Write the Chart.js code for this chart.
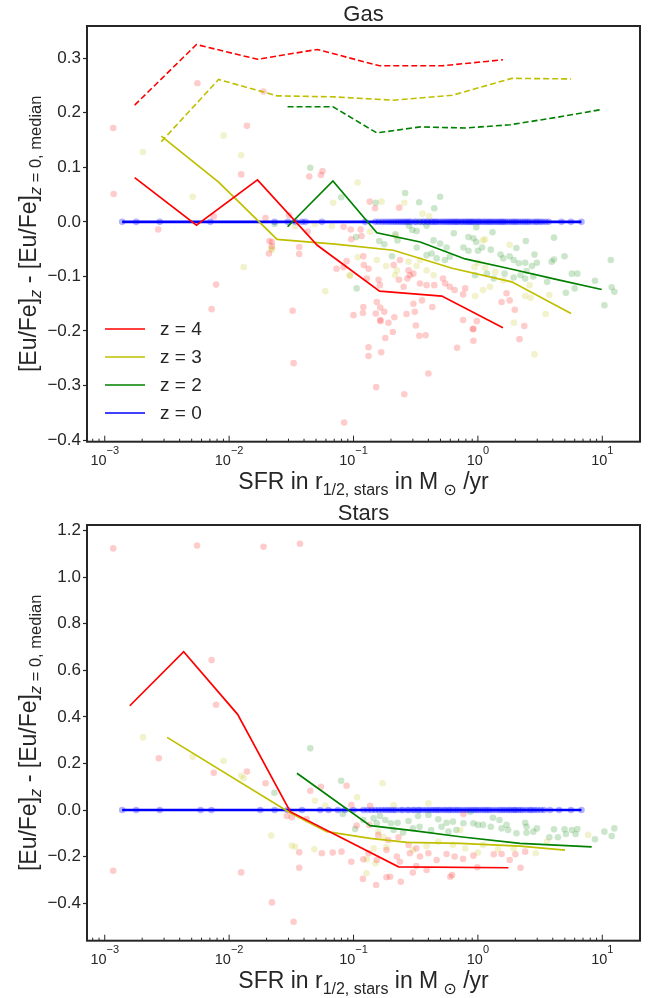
<!DOCTYPE html>
<html>
<head>
<meta charset="utf-8">
<title>[Eu/Fe] offset vs SFR</title>
<script src="https://cdn.jsdelivr.net/npm/chart.js@4.4.1/dist/chart.umd.min.js"></script>
<style>
  body { margin: 0; background: #fff; }
  .panel { position: absolute; left: 0; width: 657px; height: 499px; }
</style>
</head>
<body>
<div class="panel" style="top:0"><canvas id="gasChart" width="657" height="499"></canvas></div>
<div class="panel" style="top:499px"><canvas id="starsChart" width="657" height="499"></canvas></div>
<script>
// ---------- shared axis setup ----------
const xMin = 7.2e-4, xMax = 20.1;
const xMajorTicks = [0.001, 0.01, 0.1, 1, 10];
const xMajorLabels = ['−3', '−2', '−1', '0', '1'];   // exponents of 10
const gasYTicks = [-0.4, -0.3, -0.2, -0.1, 0.0, 0.1, 0.2, 0.3];
const starsYTicks = [-0.4, -0.2, 0.0, 0.2, 0.4, 0.6, 0.8, 1.0, 1.2];
const legendLabels = ['z = 4', 'z = 3', 'z = 2', 'z = 0'];

// ---------- Gas panel: medians (solid) and upper percentile (dashed) ----------
const gasZ4X = [0.00174, 0.00546, 0.0169, 0.0511, 0.162, 0.513, 1.59];
const gasZ4Median = [0.081, -0.006, 0.077, -0.043, -0.127, -0.136, -0.194];
const gasZ4Upper = [0.214, 0.325, 0.298, 0.316, 0.286, 0.286, 0.297];

const gasZ3X = [0.00285, 0.00823, 0.0243, 0.0713, 0.209, 0.621, 1.87, 5.61];
const gasZ3Median = [0.157, 0.073, -0.032, -0.041, -0.052, -0.085, -0.110, -0.168];
const gasZ3Upper = [0.147, 0.261, 0.231, 0.229, 0.223, 0.232, 0.263, 0.262];

const gasZ2X = [0.0295, 0.0683, 0.154, 0.344, 0.789, 1.81, 4.17, 9.89];
const gasZ2Median = [-0.009, 0.075, -0.020, -0.037, -0.068, -0.086, -0.105, -0.124];
const gasZ2Upper = [0.211, 0.211, 0.163, 0.174, 0.172, 0.178, 0.191, 0.206];

const gasZ0X = [0.00138, 6.8];
const gasZ0Median = [0, 0];

// individual galaxies (gas)
const gasZ4Points = [[0.00117,0.172],[0.00118,0.051],[0.00556,0.254],[0.0139,0.176],[0.0125,0.087],[0.00752,0.010],[0.00269,-0.014],[0.0196,0.007],[0.0189,0.239],[0.0441,0.083],[0.0547,0.086],[0.0563,0.093],[0.0303,0.012],[0.0428,-0.018],[0.0211,-0.035],[0.0221,-0.045],[0.0366,-0.046],[0.0209,-0.058],[0.0221,-0.037],[0.0366,-0.059],[0.00786,-0.115],[0.00723,-0.160],[0.0324,-0.163],[0.033,-0.259],[0.135,0.037],[0.149,0.025],[0.233,0.026],[0.0832,-0.009],[0.095,-0.014],[0.114,-0.014],[0.096,-0.032],[0.116,-0.026],[0.073,-0.086],[0.083,-0.083],[0.088,-0.072],[0.12,-0.063],[0.132,-0.086],[0.121,-0.079],[0.128,-0.104],[0.159,-0.106],[0.163,-0.116],[0.21,-0.079],[0.236,-0.070],[0.277,-0.089],[0.284,-0.098],[0.232,-0.106],[0.253,-0.119],[0.271,-0.104],[0.303,-0.095],[0.342,-0.113],[0.387,-0.116],[0.446,-0.116],[0.524,-0.104],[0.546,-0.113],[0.594,-0.119],[0.65,-0.125],[0.12,-0.156],[0.119,-0.167],[0.154,-0.147],[0.164,-0.157],[0.1,-0.171],[0.151,-0.168],[0.177,-0.165],[0.164,-0.180],[0.191,-0.185],[0.213,-0.175],[0.267,-0.169],[0.311,-0.165],[0.317,-0.190],[0.303,-0.150],[0.355,-0.144],[0.43,-0.156],[0.79,-0.122],[0.76,-0.133],[1.55,-0.147],[1.8,-0.144],[1.7,-0.131],[1.98,-0.161],[2.36,-0.191],[0.76,-0.180],[0.98,-0.182],[0.92,-0.196],[0.152,-0.303],[0.256,-0.316],[0.0841,-0.368],[0.40,-0.278],[0.132,-0.230],[0.132,-0.246],[0.167,-0.239],[0.18,-0.213],[0.207,-0.202],[0.338,-0.209],[0.38,-0.208],[0.68,-0.231],[0.92,-0.218],[0.91,-0.197],[2.16,-0.215],[0.165,-0.182]];
const gasZ3Points = [[0.00203,0.128],[0.00509,0.046],[0.00903,0.158],[0.0125,0.122],[0.0339,-0.008],[0.049,-0.004],[0.0218,-0.049],[0.0131,-0.083],[0.0221,-0.051],[0.0593,-0.127],[0.108,0.072],[0.0686,0.035],[0.168,0.037],[0.256,0.035],[0.359,0.015],[0.406,0.010],[0.136,-0.018],[0.219,-0.026],[0.094,-0.099],[0.108,-0.065],[0.154,-0.070],[0.183,-0.081],[0.223,-0.089],[0.216,-0.098],[0.277,-0.073],[0.322,-0.081],[0.342,-0.070],[0.387,-0.089],[0.44,-0.098],[0.093,-0.098],[0.067,-0.008],[1.1,-0.034],[1.14,-0.032],[1.8,-0.042],[0.94,-0.083],[1.0,-0.075],[1.14,-0.084],[1.38,-0.092],[1.6,-0.107],[2.6,-0.116],[2.4,-0.136],[2.65,-0.139],[3.75,-0.134],[3.5,-0.169],[1.25,-0.119],[1.1,-0.125],[0.95,-0.136],[1.95,-0.185],[2.85,-0.243]];
const gasZ2Points = [[0.0232,-0.004],[0.0449,0.099],[0.0796,0.045],[0.151,0.035],[0.26,0.053],[0.337,0.036],[0.497,0.046],[0.446,0.025],[0.343,0.0],[0.105,-0.028],[0.161,-0.035],[0.177,-0.041],[0.217,-0.023],[0.226,-0.034],[0.297,-0.015],[0.322,-0.017],[0.387,-0.007],[0.279,-0.007],[0.44,-0.034],[0.497,-0.040],[0.56,-0.047],[0.322,-0.047],[0.387,-0.061],[0.425,-0.058],[0.466,-0.067],[0.543,-0.070],[0.595,-0.064],[0.64,-0.021],[0.204,-0.063],[0.106,-0.122],[0.97,-0.010],[1.31,-0.019],[0.84,-0.028],[0.92,-0.030],[0.97,-0.037],[2.43,-0.035],[4.09,-0.029],[2.04,-0.048],[0.765,-0.047],[0.84,-0.053],[1.0,-0.053],[1.08,-0.047],[1.27,-0.051],[2.85,-0.060],[4.97,-0.063],[4.09,-0.069],[3.92,-0.073],[11.7,-0.070],[1.52,-0.060],[1.6,-0.067],[1.8,-0.063],[1.94,-0.070],[2.13,-0.076],[2.4,-0.075],[2.72,-0.081],[2.98,-0.075],[2.46,-0.090],[2.79,-0.100],[5.69,-0.095],[6.3,-0.095],[8.73,-0.108],[11.9,-0.120],[12.5,-0.128],[10.4,-0.153],[3.6,-0.110],[5.1,-0.130],[6.0,-0.122],[1.64,-0.095],[1.94,-0.102],[2.2,-0.098],[2.4,-0.104],[0.95,-0.098],[1.18,-0.095],[1.34,-0.104]];
const gasZ0PointsX = [0.00138,0.00179,0.00277,0.00706,0.0232,0.0297,0.034,0.0385,0.041,0.0557,0.124,0.15,0.16,0.17,0.18,0.19,0.2,0.21,0.22,0.23,0.24,0.25,0.26,0.27,0.28,0.29,0.31,0.32,0.34,0.36,0.37,0.39,0.4,0.42,0.43,0.45,0.46,0.48,0.5,0.52,0.54,0.56,0.58,0.6,0.62,0.64,0.66,0.68,0.7,0.73,0.75,0.78,0.8,0.83,0.85,0.88,0.9,0.93,0.96,1.0,1.02,1.06,1.1,1.14,1.18,1.22,1.26,1.3,1.35,1.4,1.45,1.5,1.55,1.6,1.65,1.72,1.8,1.88,1.95,2.02,2.1,2.2,2.3,2.4,2.5,2.6,2.75,2.9,3.0,3.15,3.3,3.5,3.7,4.7,5.6,6.8];

// ---------- Stars panel ----------
const starsZ4X = [0.00159, 0.00431, 0.0117, 0.031, 0.230, 1.76];
const starsZ4Median = [0.448, 0.680, 0.411, -0.007, -0.244, -0.248];

const starsZ3X = [0.00317, 0.0306, 0.0611, 0.136, 0.269, 0.72, 2.18, 5.02];
const starsZ3Median = [0.312, -0.011, -0.093, -0.122, -0.139, -0.143, -0.155, -0.172];

const starsZ2X = [0.0351, 0.136, 0.313, 0.72, 2.18, 8.22];
const starsZ2Median = [0.158, -0.067, -0.090, -0.115, -0.143, -0.158];

const starsZ0X = [0.00138, 6.8];
const starsZ0Median = [0, 0];

const starsZ4Points = [[0.00117,1.124],[0.00552,1.136],[0.0189,1.131],[0.0371,1.144],[0.00723,0.644],[0.00785,0.452],[0.00272,0.222],[0.00752,0.160],[0.0139,0.165],[0.0196,0.115],[0.0449,0.083],[0.0547,0.100],[0.00117,-0.261],[0.0125,-0.268],[0.0221,-0.397],[0.033,-0.480],[0.0366,-0.182],[0.0366,-0.248],[0.0556,-0.186],[0.0291,-0.026],[0.0319,-0.031],[0.042,-0.039],[0.088,0.104],[0.096,0.021],[0.136,0.018],[0.106,-0.067],[0.134,-0.064],[0.158,-0.107],[0.19,-0.129],[0.23,-0.117],[0.277,-0.150],[0.32,-0.165],[0.132,-0.186],[0.154,-0.215],[0.184,-0.172],[0.223,-0.200],[0.236,-0.222],[0.284,-0.186],[0.342,-0.200],[0.40,-0.186],[0.466,-0.215],[0.56,-0.189],[0.65,-0.200],[0.096,-0.222],[0.12,-0.212],[0.184,-0.289],[0.119,-0.296],[0.152,-0.322],[0.197,-0.287],[0.30,-0.269],[0.32,-0.241],[0.387,-0.258],[0.080,-0.179],[0.068,-0.183],[0.62,-0.279],[0.24,-0.308],[0.60,-0.287],[0.765,-0.017],[0.76,-0.210],[0.92,-0.196],[1.34,-0.190],[1.55,-0.189],[1.8,-0.215],[2.0,-0.190],[2.4,-0.179],[0.99,-0.246],[2.2,-0.248]];
const starsZ3Points = [[0.00203,0.312],[0.00509,0.229],[0.00903,0.211],[0.0125,0.147],[0.0131,0.136],[0.049,0.040],[0.0593,0.019],[0.0218,-0.110],[0.0319,-0.153],[0.0339,-0.158],[0.0484,-0.169],[0.171,0.115],[0.107,0.055],[0.21,0.021],[0.40,0.029],[0.158,-0.093],[0.174,-0.115],[0.145,-0.165],[0.184,-0.160],[0.30,-0.172],[0.387,-0.155],[0.48,-0.136],[0.63,-0.150],[0.128,-0.212],[0.15,-0.229],[0.127,-0.272],[0.72,-0.086],[0.79,-0.165],[1.0,-0.183],[1.1,-0.150],[1.45,-0.169],[1.94,-0.165],[2.92,-0.186],[3.6,-0.136],[7.7,-0.107]];
const starsZ2Points = [[0.0449,0.265],[0.0231,0.074],[0.0796,0.126],[0.082,-0.017],[0.12,-0.043],[0.145,-0.036],[0.163,-0.026],[0.154,-0.057],[0.103,-0.082],[0.18,-0.043],[0.20,-0.057],[0.226,-0.055],[0.277,-0.047],[0.33,-0.026],[0.40,-0.021],[0.48,-0.040],[0.56,-0.055],[0.63,-0.050],[0.21,-0.086],[0.25,-0.097],[0.30,-0.079],[0.34,-0.072],[0.42,-0.086],[0.51,-0.072],[0.58,-0.093],[0.67,-0.086],[0.87,-0.007],[1.32,-0.033],[1.49,-0.043],[1.7,-0.064],[2.4,-0.055],[2.46,-0.072],[2.98,-0.079],[0.765,-0.057],[0.92,-0.057],[1.0,-0.064],[1.1,-0.064],[1.27,-0.072],[1.55,-0.079],[1.75,-0.086],[2.04,-0.100],[2.46,-0.098],[2.79,-0.093],[4.09,-0.083],[4.97,-0.083],[5.69,-0.086],[6.3,-0.082],[5.1,-0.103],[4.4,-0.117],[3.75,-0.117],[6.1,-0.103],[8.73,-0.126],[10.4,-0.093],[12.5,-0.079],[11.9,-0.112]];
const starsZ0PointsX = [0.00138,0.00179,0.00277,0.0059,0.0072,0.0178,0.0232,0.0295,0.0385,0.054,0.063,0.075,0.085,0.1,0.12,0.13,0.14,0.15,0.16,0.17,0.18,0.19,0.2,0.21,0.22,0.24,0.25,0.27,0.28,0.3,0.31,0.33,0.34,0.36,0.38,0.4,0.42,0.44,0.46,0.48,0.5,0.53,0.55,0.58,0.6,0.63,0.66,0.69,0.72,0.76,0.8,0.84,0.88,0.92,0.96,1.0,1.05,1.1,1.15,1.2,1.25,1.32,1.4,1.48,1.55,1.62,1.7,1.78,1.85,1.95,2.0,2.1,2.2,2.3,2.45,2.6,2.7,2.85,3.0,3.2,3.4,3.8,4.5,5.6,6.8];

// ---------- helpers ----------
const INK = '#262626';
const SANS = '"Liberation Sans", Arial, "DejaVu Sans", sans-serif';
const colors = { 4: '#ff0000', 3: '#bfbf00', 2: '#008000', 0: '#0000ff' };

function fade(hex, a) {
  const n = parseInt(hex.slice(1), 16);
  return `rgba(${n >> 16},${(n >> 8) & 255},${n & 255},${a})`;
}
const toPts = (xs, ys) => xs.map((x, i) => ({ x, y: ys[i] }));
const pairPts = arr => arr.map(([x, y]) => ({ x, y }));

function buildDatasets(series) {
  const ds = [];
  series.forEach(s => {
    ds.push({ data: s.points, showLine: false, pointRadius: 3.3, borderWidth: 0,
      backgroundColor: fade(colors[s.z], s.z === 0 ? 0.3 : 0.2), order: 2 });
  });
  series.forEach(s => {
    if (s.upper) {
      ds.push({ data: toPts(s.x, s.upper), showLine: true, pointRadius: 0, borderColor: colors[s.z],
        borderWidth: 1.6, borderDash: [6, 3], order: 1 });
    }
    ds.push({ label: s.label, data: toPts(s.x, s.median), showLine: true, pointRadius: 0,
      borderColor: colors[s.z], borderWidth: s.z === 0 ? 2.6 : 1.7, order: 0 });
  });
  return ds;
}

function fontOf(r) {
  return `${r.italic ? 'italic ' : ''}${r.size}px ${r.family || SANS}`;
}
// draw a row of text pieces (for sub/superscripts), centred on x
function drawRuns(ctx, runs, x, y) {
  let total = 0;
  runs.forEach(r => { ctx.font = fontOf(r); r.w = ctx.measureText(r.t).width; total += r.w; });
  let cx = x - total / 2;
  runs.forEach(r => { ctx.font = fontOf(r); ctx.fillText(r.t, cx, y + (r.dy || 0)); cx += r.w; });
}

const xLabelRuns = [
  { t: 'SFR in r', size: 23 },
  { t: '1/2, stars', size: 16, dy: 6 },
  { t: ' in M', size: 23 },
  { t: ' \u2299', size: 16, dy: 6, family: '"DejaVu Sans", sans-serif' },
  { t: ' /yr', size: 23 }
];
const yLabelRuns = [
  { t: '[Eu/Fe]', size: 23 },
  { t: 'z', size: 16.5, dy: 5.5, italic: true },
  { t: ' - [Eu/Fe]', size: 23 },
  { t: 'z', size: 16.5, dy: 5.5, italic: true },
  { t: ' = 0, median', size: 16.5, dy: 5.5 }
];

function decorPlugin(title, series, showLegend) {
  return {
    id: 'decor',
    afterDraw(chart) {
      const { ctx, chartArea: a } = chart;
      const xs = chart.scales.x;
      ctx.save();
      // box
      ctx.strokeStyle = INK;
      ctx.lineWidth = 2;
      ctx.strokeRect(a.left, a.top, a.right - a.left, a.bottom - a.top);
      // log ticks, pointing inward
      ctx.lineWidth = 1;
      xMajorTicks.forEach(dec => {
        for (let k = 1; k <= 9; k++) {
          const v = k * dec;
          if (v < xMin || v > xMax) continue;
          const px = xs.getPixelForValue(v);
          ctx.beginPath();
          ctx.moveTo(px, a.bottom);
          ctx.lineTo(px, a.bottom - (k === 1 ? 6 : 3));
          ctx.stroke();
        }
      });
      // minor ticks below the first decade
      for (let k = 7; k <= 9; k++) {
        const v = k * 0.0001;
        if (v < xMin) continue;
        const px = xs.getPixelForValue(v);
        ctx.beginPath(); ctx.moveTo(px, a.bottom); ctx.lineTo(px, a.bottom - 3); ctx.stroke();
      }
      ctx.fillStyle = INK;
      ctx.textAlign = 'left';
      ctx.textBaseline = 'alphabetic';
      xMajorTicks.forEach((v, i) => {
        drawRuns(ctx, [{ t: '10', size: 14.5 }, { t: xMajorLabels[i], size: 11, dy: -11 }],
          xs.getPixelForValue(v), a.bottom + 23.5);
      });
      // axis labels
      drawRuns(ctx, xLabelRuns, (a.left + a.right) / 2, a.bottom + 47.5);
      ctx.save();
      ctx.translate(35.5, (a.top + a.bottom) / 2);
      ctx.rotate(-Math.PI / 2);
      drawRuns(ctx, yLabelRuns, 0, 0);
      ctx.restore();
      // title
      drawRuns(ctx, [{ t: title, size: 22 }], (a.left + a.right) / 2, a.top - 5.5);
      // legend
      if (showLegend) {
        ctx.font = `19px ${SANS}`;
        ctx.textBaseline = 'middle';
        series.forEach((s, i) => {
          const y = 329 + i * 28;
          ctx.strokeStyle = colors[s.z];
          ctx.lineWidth = 1.7;
          ctx.beginPath(); ctx.moveTo(105, y); ctx.lineTo(145, y); ctx.stroke();
          ctx.fillText(s.label, 160, y + 1);
        });
      }
      ctx.restore();
    }
  };
}

function makePanel(id, title, series, yMin, yMax, yTicks, showLegend) {
  return new Chart(document.getElementById(id).getContext('2d'), {
    type: 'scatter',
    data: { datasets: buildDatasets(series) },
    options: {
      responsive: false,
      animation: false,
      events: [],
      layout: { padding: { left: 0, right: 17, top: 26, bottom: 0 } },
      plugins: { legend: { display: false }, tooltip: { enabled: false } },
      scales: {
        x: {
          type: 'logarithmic', min: xMin, max: xMax,
          ticks: { display: false },
          grid: { display: false },
          border: { display: false },
          afterFit: s => { s.height = 57.3; }
        },
        y: {
          min: yMin, max: yMax,
          afterBuildTicks: s => { s.ticks = yTicks.map(v => ({ value: v })); },
          ticks: {
            color: INK, padding: 2,
            font: { family: SANS, size: 17 },
            callback: v => (Math.abs(v) < 1e-9 ? '0.0' : v.toFixed(1).replace('-', '\u2212'))
          },
          grid: { drawOnChartArea: false, tickLength: 4, tickWidth: 1.2, tickColor: INK },
          border: { display: false },
          afterFit: s => { s.width = 87; }
        }
      }
    },
    plugins: [decorPlugin(title, series, showLegend)]
  });
}

const gasSeries = [
  { z: 4, label: legendLabels[0], x: gasZ4X, median: gasZ4Median, upper: gasZ4Upper, points: pairPts(gasZ4Points) },
  { z: 3, label: legendLabels[1], x: gasZ3X, median: gasZ3Median, upper: gasZ3Upper, points: pairPts(gasZ3Points) },
  { z: 2, label: legendLabels[2], x: gasZ2X, median: gasZ2Median, upper: gasZ2Upper, points: pairPts(gasZ2Points) },
  { z: 0, label: legendLabels[3], x: gasZ0X, median: gasZ0Median, points: gasZ0PointsX.map(x => ({ x, y: 0 })) }
];
const starsSeries = [
  { z: 4, label: legendLabels[0], x: starsZ4X, median: starsZ4Median, points: pairPts(starsZ4Points) },
  { z: 3, label: legendLabels[1], x: starsZ3X, median: starsZ3Median, points: pairPts(starsZ3Points) },
  { z: 2, label: legendLabels[2], x: starsZ2X, median: starsZ2Median, points: pairPts(starsZ2Points) },
  { z: 0, label: legendLabels[3], x: starsZ0X, median: starsZ0Median, points: starsZ0PointsX.map(x => ({ x, y: 0 })) }
];

makePanel('gasChart', 'Gas', gasSeries, -0.403, 0.359, gasYTicks, true);
makePanel('starsChart', 'Stars', starsSeries, -0.5615, 1.2245, starsYTicks, false);
</script>
</body>
</html>
